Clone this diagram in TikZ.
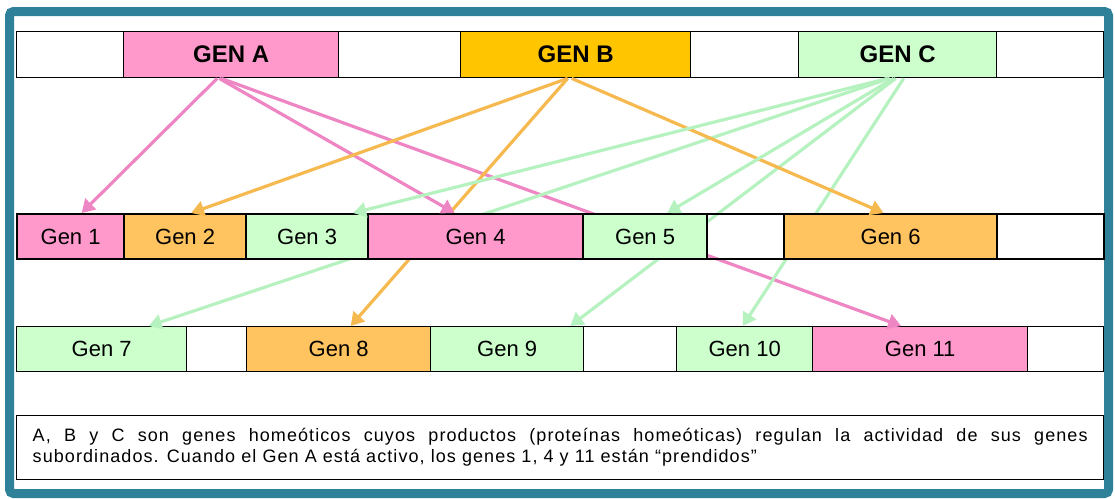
\documentclass[tikz,border=0pt]{standalone}
\usepackage{fontspec}
\setmainfont{Liberation Sans}
\usetikzlibrary{arrows.meta}

\definecolor{framecol}{HTML}{2E8199}
\definecolor{pinkgen}{HTML}{FF99CC}
\definecolor{goldgen}{HTML}{FFC600}
\definecolor{orangegen}{HTML}{FFC35F}
\definecolor{greengen}{HTML}{CCFFCC}
\definecolor{pinklink}{HTML}{EF86C4}
\definecolor{orangelink}{HTML}{F6B950}
\definecolor{greenlink}{HTML}{B6F2C0}

\begin{document}
\begin{tikzpicture}[x=1pt, y=-1pt,
    box/.style={draw=black, line width=1.4pt, anchor=north west, inner sep=0pt,
                minimum height=46pt, font=\fontsize{22}{22}\selectfont},
    topbox/.style={box, font=\bfseries\fontsize{24}{24}\selectfont},
    midbox/.style={box, line width=2.2pt, minimum height=45pt},
    lowbox/.style={box, minimum height=45pt},
    link/.style={line width=3.2pt, -{Triangle[length=13pt,width=15pt]}}]
    \useasboundingbox (0,0) rectangle (1115,498);

    % outer frame
    \draw[framecol, line width=9pt, rounded corners=4pt] (9.5,11.5) rectangle (1108.5,493.5);

    % regulating genes
    \node[topbox, minimum width=107pt] (gapA) at (16,31) {};
    \node[topbox, minimum width=215pt, fill=pinkgen] (genA) at (123,31) {GEN A};
    \node[topbox, minimum width=122pt] (gapB) at (338,31) {};
    \node[topbox, minimum width=230pt, fill=goldgen] (genB) at (460,31) {GEN B};
    \node[topbox, minimum width=108pt] (gapC) at (690,31) {};
    \node[topbox, minimum width=198pt, fill=greengen] (genC) at (798,31) {GEN C};
    \node[topbox, minimum width=107pt] (gapD) at (996,31) {};

    % third row
    \node[lowbox, minimum width=170pt, fill=greengen] (gen7) at (16,326) {Gen 7};
    \node[lowbox, minimum width=60pt] (gapK) at (186,326) {};
    \node[lowbox, minimum width=184pt, fill=orangegen] (gen8) at (246,326) {Gen 8};
    \node[lowbox, minimum width=153pt, fill=greengen] (gen9) at (430,326) {Gen 9};
    \node[lowbox, minimum width=93pt] (gapL) at (583,326) {};
    \node[lowbox, minimum width=136pt, fill=greengen] (gen10) at (676,326) {Gen 10};
    \node[lowbox, minimum width=215pt, fill=pinkgen] (gen11) at (812,326) {Gen 11};
    \node[lowbox, minimum width=76pt] (gapM) at (1027,326) {};

    % long links, hidden behind the second row
    \draw[link, pinklink] ([xshift=-10pt]genA.south) -- ([xshift=-19pt]gen11.north);
    \draw[link, orangelink] ([xshift=-8pt]genB.south) -- ([xshift=12pt]gen8.north);
    \draw[link, greenlink] ([xshift=-8pt]genC.south) -- ([xshift=47pt]gen7.north);
    \draw[link, greenlink] ([xshift=-2pt]genC.south) -- ([xshift=63pt]gen9.north);
    \draw[link, greenlink] ([xshift=6pt]genC.south) -- ([xshift=-2pt]gen10.north);

    % second row
    \node[midbox, minimum width=107pt, fill=pinkgen] (gen1) at (16,213) {Gen 1};
    \node[midbox, minimum width=122pt, fill=orangegen] (gen2) at (123,213) {Gen 2};
    \node[midbox, minimum width=122pt, fill=greengen] (gen3) at (245,213) {Gen 3};
    \node[midbox, minimum width=215pt, fill=pinkgen] (gen4) at (367,213) {Gen 4};
    \node[midbox, minimum width=124pt, fill=greengen] (gen5) at (582,213) {Gen 5};
    \node[midbox, minimum width=77pt] (gapE) at (706,213) {};
    \node[midbox, minimum width=213pt, fill=orangegen] (gen6) at (783,213) {Gen 6};
    \node[midbox, minimum width=107pt] (gapF) at (996,213) {};

    % short links into the second row
    \draw[link, pinklink] ([xshift=-14pt]genA.south) -- ([xshift=11pt]gen1.north);
    \draw[link, pinklink] ([xshift=-12pt]genA.south) -- ([xshift=-21pt]gen4.north);
    \draw[link, orangelink] ([xshift=-8pt]genB.south) -- ([xshift=6pt]gen2.north);
    \draw[link, orangelink] ([xshift=-4pt]genB.south) -- ([xshift=-7pt]gen6.north);
    \draw[link, greenlink] ([xshift=-10pt]genC.south) -- ([xshift=46pt]gen3.north);
    \draw[link, greenlink] ([xshift=-4pt]genC.south) -- ([xshift=22pt]gen5.north);

    % caption box
    \node[draw=black, line width=1.4pt, anchor=north west, minimum width=1087pt,
          minimum height=64pt, inner xsep=16pt, text width=1055pt, align=justify,
          font=\fontsize{18}{21}\selectfont\addfontfeature{LetterSpace=6}] (note) at (16,415)
        {A, B y C son genes homeóticos cuyos productos (proteínas homeóticas) regulan la actividad de sus genes\linebreak
         subordinados. Cuando el Gen A está activo, los genes 1, 4 y 11 están ``prendidos''};
\end{tikzpicture}
\end{document}
